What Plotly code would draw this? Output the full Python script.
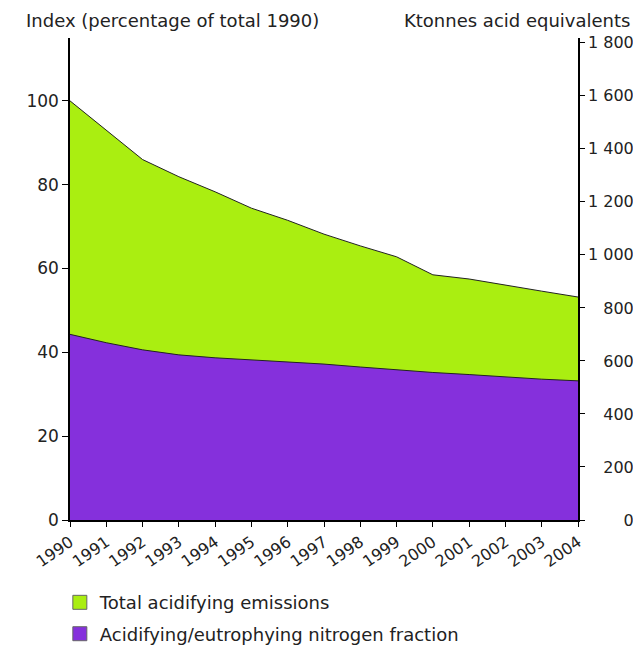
import plotly.graph_objects as go

# Années et valeurs (index, % du total 1990)
years = [str(y) for y in range(1990, 2005)]
total_acid = [100, 92.9, 86.0, 81.9, 78.3, 74.4, 71.5, 68.2, 65.4, 62.8, 58.5, 57.5, 56.0, 54.6, 53.2]
nitrogen_frac = [44.3, 42.3, 40.6, 39.4, 38.7, 38.2, 37.7, 37.2, 36.5, 35.8, 35.2, 34.7, 34.1, 33.6, 33.2]

series_names = ["Total acidifying emissions", "Acidifying/eutrophying nitrogen fraction"]
series_colors = ["#aaee11", "#8530dc"]

# Axe de droite (Ktonnes), libellés alignés à droite avec des espaces fixes
right_vals = [0, 200, 400, 600, 800, 1000, 1200, 1400, 1600, 1800]
right_text = ["\u2007\u2007\u2007\u00a00", "\u2007\u00a0200", "\u2007\u00a0400", "\u2007\u00a0600",
              "\u2007\u00a0800", "1 000", "1 200", "1 400", "1 600", "1 800"]

font_name = "DejaVu Sans"

fig = go.Figure()
# Aires (sans légende)
for vals, color in zip([total_acid, nitrogen_frac], series_colors):
    fig.add_trace(go.Scatter(
        x=years, y=vals, mode="lines", fill="tozeroy", fillcolor=color,
        line=dict(color="#222222", width=1), showlegend=False
    ))
# Entrées de légende en carrés
for i, (name, color) in enumerate(zip(series_names, series_colors)):
    fig.add_trace(go.Scatter(
        x=[years[0]], y=[None], mode="markers", name=name, legendgroup=str(i),
        marker=dict(symbol="square", size=14, color=color, line=dict(color="#666666", width=1)),
        hoverinfo="skip"
    ))
# trace invisible pour activer l'axe de droite
fig.add_trace(go.Scatter(x=years, y=[None] * len(years), yaxis="y2", showlegend=False, hoverinfo="skip"))

fig.update_layout(
    width=633, height=638,
    margin=dict(l=62, r=63, t=30, b=126),
    plot_bgcolor="white", paper_bgcolor="white",
    font=dict(family=font_name, size=17, color="#222222"),
    xaxis=dict(
        type="category", range=[0, 14], showgrid=False, showline=True,
        linecolor="black", linewidth=1.5, ticks="outside", ticklen=5,
        tickcolor="black", tickangle=-35, tickfont=dict(size=16), automargin=False
    ),
    yaxis=dict(
        range=[0, 115], tickvals=[0, 20, 40, 60, 80, 100], showgrid=False,
        showline=True, linecolor="black", linewidth=1.5, ticks="outside",
        ticklen=6, tickcolor="black", zeroline=False, tickfont=dict(size=17),
        automargin=False
    ),
    yaxis2=dict(
        overlaying="y", side="right", range=[0, 1818], tickvals=right_vals,
        ticktext=right_text, showgrid=False, showline=True, linecolor="black",
        linewidth=1.5, ticks="outside", ticklen=5, tickcolor="black",
        zeroline=False, tickfont=dict(size=16), automargin=False
    ),
    legend=dict(
        x=-0.02, xanchor="left", yref="container", y=0.097, yanchor="top",
        font=dict(size=18), tracegroupgap=5, bgcolor="rgba(0,0,0,0)"
    ),
    annotations=[
        dict(text="Index (percentage of total 1990)", xref="paper", yref="paper",
             x=-0.091, y=1.037, xanchor="left", yanchor="middle", showarrow=False,
             font=dict(size=18)),
        dict(text="Ktonnes acid equivalents", xref="paper", yref="paper",
             x=1.106, y=1.037, xanchor="right", yanchor="middle", showarrow=False,
             font=dict(size=18)),
    ],
)

fig.write_html("out.html")
